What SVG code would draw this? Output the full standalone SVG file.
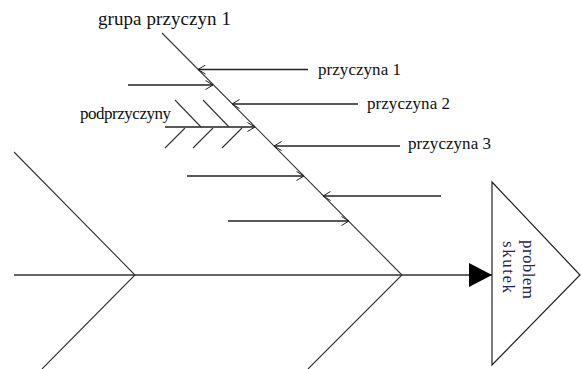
<svg xmlns="http://www.w3.org/2000/svg" width="582" height="369" viewBox="0 0 582 369">
  <defs>
    <marker id="open-arrow" markerUnits="userSpaceOnUse" markerWidth="10" markerHeight="10" refX="8" refY="5" orient="auto">
      <path d="M0.5,0.5 L8,5 L0.5,9.5" fill="none" stroke="#222" stroke-width="1"/>
    </marker>
    <marker id="solid-arrow" markerUnits="userSpaceOnUse" markerWidth="24" markerHeight="24" refX="23" refY="12" orient="auto">
      <path d="M0,0 L23,12 L0,24 Z" fill="#000"/>
    </marker>
    <style>
      .bone { stroke: #333; stroke-width: 1.1; fill: none; }
      .spine { stroke: #333; stroke-width: 1.6; fill: none; }
      .cause { stroke: #222; stroke-width: 1.6; fill: none; marker-end: url(#open-arrow); }
      .sub { stroke: #333; stroke-width: 1.1; fill: none; }
      .lbl { font-family: "Liberation Serif", "Times New Roman", serif; font-size: 17px; fill: #111; }
      .big { font-size: 19px; }
      .head { font-family: "Liberation Serif", "Times New Roman", serif; font-size: 17px; fill: #1e2456; }
    </style>
  </defs>

  <!-- fish skeleton and causes -->
  <g id="connectors">
    <!-- main spine with filled arrowhead into the effect -->
    <line class="spine" x1="14" y1="275" x2="492" y2="275" marker-end="url(#solid-arrow)"/>
    <!-- left cause group bones -->
    <polyline class="bone" points="14,152 135,275 42,369"/>
    <!-- right cause group bones -->
    <polyline class="bone" points="162,33 402,275 308,369"/>

    <!-- causes pointing to the bone -->
    <line class="cause" x1="308" y1="69.5" x2="198" y2="69.5"/>
    <line class="cause" x1="128" y1="85" x2="213" y2="85"/>
    <line class="cause" x1="358" y1="104" x2="232" y2="104"/>
    <line class="cause" x1="165" y1="127" x2="255" y2="127"/>
    <line class="cause" x1="400" y1="146" x2="274" y2="146"/>
    <line class="cause" x1="187" y1="176" x2="304" y2="176"/>
    <line class="cause" x1="441" y1="196" x2="323" y2="196"/>
    <line class="cause" x1="228" y1="221" x2="349" y2="221"/>

    <!-- sub-causes -->
    <line class="sub" x1="175" y1="100" x2="201" y2="127"/>
    <line class="sub" x1="203" y1="100" x2="229" y2="127"/>
    <line class="sub" x1="165" y1="148" x2="185" y2="128"/>
    <line class="sub" x1="193" y1="148" x2="213" y2="128"/>
    <line class="sub" x1="222" y1="148" x2="242" y2="128"/>
  </g>

  <g id="effect">
    <polygon points="492,182 580,275 492,365" fill="#fff" stroke="#222" stroke-width="1.2"/>
    <text class="head" transform="translate(523,240) rotate(90)" textLength="59" lengthAdjust="spacing">problem</text>
    <text class="head" transform="translate(503,241) rotate(90)" textLength="52" lengthAdjust="spacing">skutek</text>
  </g>

  <g id="group-label">
    <text class="lbl big" x="98" y="25" textLength="133" lengthAdjust="spacing">grupa przyczyn 1</text>
  </g>
  <g id="cause-1">
    <text class="lbl" x="318" y="75" textLength="83" lengthAdjust="spacing">przyczyna 1</text>
  </g>
  <g id="cause-2">
    <text class="lbl" x="367" y="109" textLength="83" lengthAdjust="spacing">przyczyna 2</text>
  </g>
  <g id="cause-3">
    <text class="lbl" x="408" y="149" textLength="83" lengthAdjust="spacing">przyczyna 3</text>
  </g>
  <g id="sub-causes">
    <text class="lbl" x="80" y="119" textLength="91" lengthAdjust="spacing">podprzyczyny</text>
  </g>
</svg>
